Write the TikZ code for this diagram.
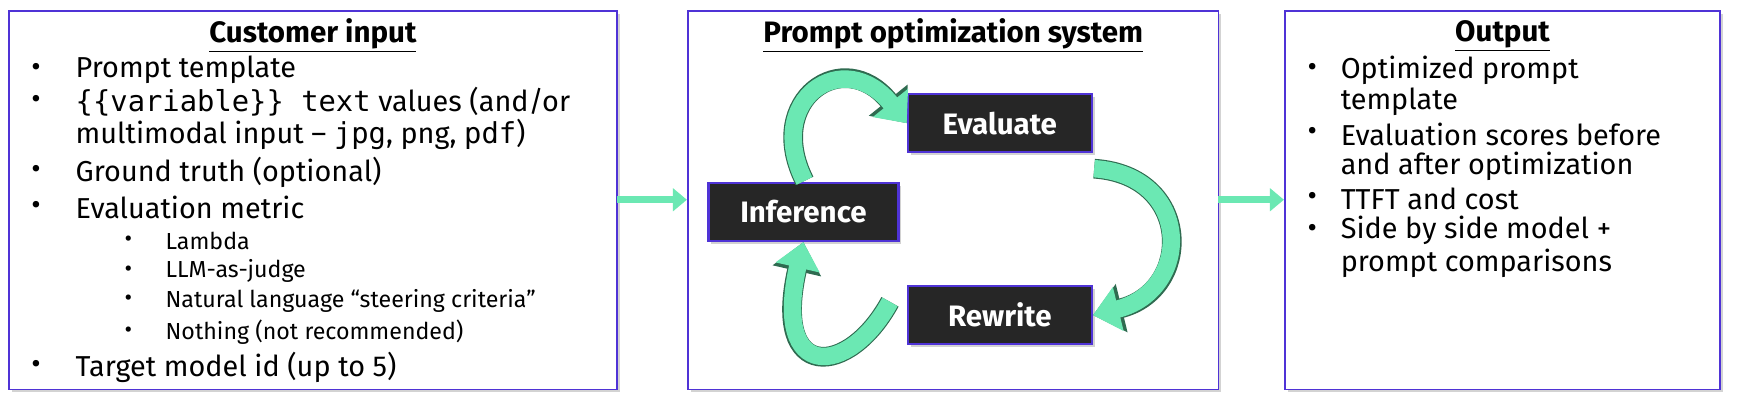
\documentclass[tikz,border=0pt]{standalone}
\usepackage{fontspec}
\setmainfont{Fira Sans}
\setmonofont{DejaVu Sans Mono}
\usetikzlibrary{arrows.meta,shadows}
\definecolor{frame}{HTML}{4F33D6}
\definecolor{mint}{HTML}{6BE8B3}
\definecolor{ribbonedge}{HTML}{2F6B50}
\definecolor{darkbox}{HTML}{262626}
\tikzset{
  panel/.style={draw=frame, line width=1.3pt, fill=white, drop shadow={opacity=0.35, shadow xshift=2pt, shadow yshift=-2pt}},
  stage/.style={draw=frame, line width=1.6pt, fill=darkbox, text=white, font=\fontsize{21}{24}\selectfont\bfseries,
    minimum height=1.45cm, drop shadow={opacity=0.35, shadow xshift=2pt, shadow yshift=-2pt}},
  head/.style={font=\fontsize{21}{24}\selectfont\bfseries},
  item/.style={anchor=west, inner sep=0pt, font=\fontsize{20.5}{23}\selectfont},
  sub/.style={anchor=west, inner sep=0pt, font=\fontsize{16.5}{18}\selectfont},
  feed/.style={mint, line width=5pt, -{Triangle[length=10pt,width=16pt]}},
  ribbonout/.style={ribbonedge, line width=14pt, -{Triangle[length=21pt,width=34pt]}},
  ribbonin/.style={mint, line width=12.4pt, -{Triangle[length=18.5pt,width=31pt]}}
}
\begin{document}
\begin{tikzpicture}[x=0.02774cm, y=-0.02774cm]
\useasboundingbox (0,0) rectangle (1568,370);
% panels
\draw[panel] (8,10) rectangle (556,351);
\draw[panel] (620,10) rectangle (1098,351);
\draw[panel] (1158,10) rectangle (1550,351);
\coordinate (inR) at (556,180);
\coordinate (midL) at (619,180);
\coordinate (midR) at (1098,180);
\coordinate (outL) at (1157,180);
\draw[feed] (inR) -- (midL);
\draw[feed] (midR) -- (outL);

% customer input
\node[head] (tin) at (282,32) {\underline{Customer input}};
\node[item] at (28,63) {\textbullet}; \node[item] (i1) at (68,63) {Prompt template};
\node[item] at (28,92) {\textbullet}; \node[item] (i2) at (68,92) {\texttt{\{\{variable\}\} text} values (and/or};
\node[item] (i2b) at (68,121) {multimodal input -- \texttt{jpg}, png, \texttt{pdf})};
\node[item] at (28,155) {\textbullet}; \node[item] (i3) at (68,155) {Ground truth (optional)};
\node[item] at (28,187) {\textbullet}; \node[item] (i4) at (68,187) {Evaluation metric};
\node[sub] at (112,217) {\textbullet}; \node[sub] (s1) at (149,217) {Lambda};
\node[sub] at (112,244) {\textbullet}; \node[sub] (s2) at (149,244) {LLM-as-judge};
\node[sub] at (112,271) {\textbullet}; \node[sub] (s3) at (149,271) {Natural language “steering criteria”};
\node[sub] at (112,299) {\textbullet}; \node[sub] (s4) at (149,299) {Nothing (not recommended)};
\node[item] at (28,331) {\textbullet}; \node[item] (i5) at (68,331) {Target model id (up to 5)};

% optimization loop
\node[head] (tsys) at (859,32) {\underline{Prompt optimization system}};
\node[stage, minimum width=4.75cm] (inf) at (724,191) {Inference};
\node[stage, minimum width=4.6cm] (eval) at (901,111) {Evaluate};
\node[stage, minimum width=4.6cm] (rew) at (901,284) {Rewrite};
\coordinate (a1s) at (725,163);
\coordinate (a2s) at (986,152);
\coordinate (a3s) at (802,272);
\draw[ribbonout] (a1s) .. controls (688,90) and (760,40) .. (eval.west);
\draw[ribbonin] (a1s) .. controls (688,90) and (760,40) .. (eval.west);
\draw[ribbonout] (a2s) .. controls (1075,158) and (1075,262) .. (rew.east);
\draw[ribbonin] (a2s) .. controls (1075,158) and (1075,262) .. (rew.east);
\draw[ribbonout] (a3s) .. controls (765,340) and (695,345) .. (inf.south);
\draw[ribbonin] (a3s) .. controls (765,340) and (695,345) .. (inf.south);

% output
\node[head] (tout) at (1354,32) {\underline{Output}};
\node[item] at (1178,63) {\textbullet}; \node[item] (o1) at (1208,63) {Optimized prompt};
\node[item] (o1b) at (1208,92) {template};
\node[item] at (1178,121) {\textbullet}; \node[item] (o2) at (1208,121) {Evaluation scores before};
\node[item] (o2b) at (1208,150) {and after optimization};
\node[item] at (1178,179) {\textbullet}; \node[item] (o3) at (1208,179) {TTFT and cost};
\node[item] at (1178,208) {\textbullet}; \node[item] (o4) at (1208,208) {Side by side model +};
\node[item] (o4b) at (1208,237) {prompt comparisons};
\end{tikzpicture}
\end{document}
